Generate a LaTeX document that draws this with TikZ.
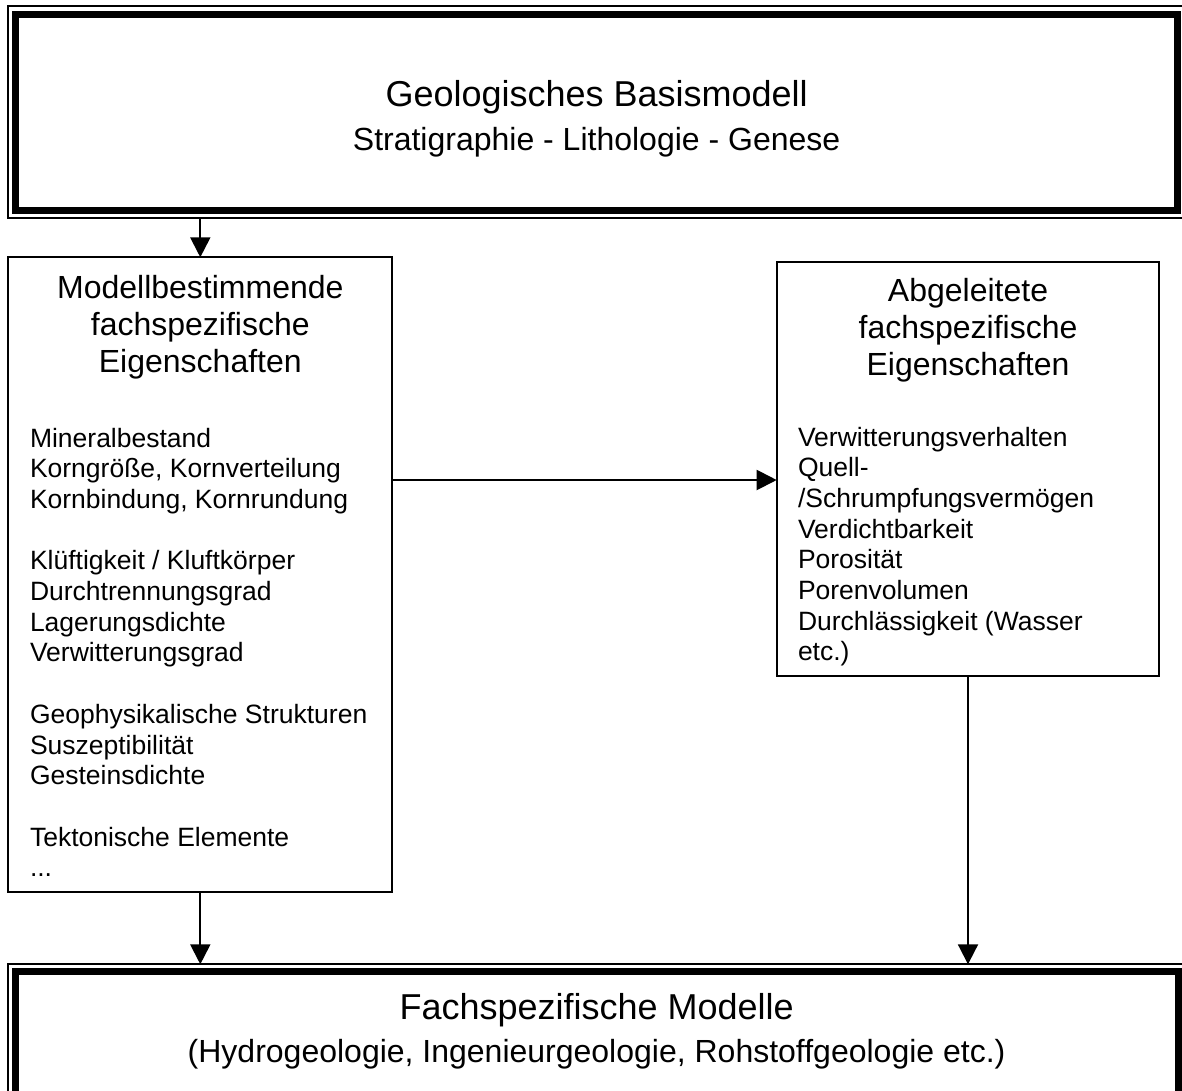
\documentclass[tikz,border=0pt]{standalone}
\usepackage{fontspec}
\setmainfont{Liberation Sans}
\usetikzlibrary{arrows.meta,calc}
\begin{document}
\begin{tikzpicture}[x=1pt,y=-1pt,
  thinbox/.style={draw, rectangle, line width=2pt, inner sep=0pt, outer sep=0pt},
  thickbox/.style={draw, rectangle, line width=7pt, inner sep=0pt, outer sep=0pt},
  conn/.style={line width=2pt, -{Triangle[width=20pt,length=20pt]}},
  txt/.style={inner sep=0pt, outer sep=0pt},
  titlefont/.style={font=\fontsize{36}{44}\selectfont},
  subfont/.style={font=\fontsize{32}{43}\selectfont},
  headfont/.style={font=\fontsize{32}{37}\selectfont},
  bodyfont/.style={font=\fontsize{26.5}{30.7}\selectfont}
]
\useasboundingbox (0,0) rectangle (1182,1090);
\clip (0,0) rectangle (1182,1090);
\fill[white] (0,0) rectangle (1182,1090);

% top box
\node[thinbox, minimum width=1175.8pt, minimum height=212pt] (topouter) at (596.1,112) {};
\node[thickbox, minimum width=1161.7pt, minimum height=196pt] (topinner) at (596.65,112) {};
\node[txt, titlefont, anchor=base] (title1) at (596.6,106) {Geologisches Basismodell};
\node[txt, subfont, anchor=base] (title2) at (596.6,150) {Stratigraphie - Lithologie - Genese};

% left box (multi-line nodes: base anchor = baseline of the last line)
\node[thinbox, minimum width=384pt, minimum height=635pt] (lbox) at (200.3,574.8) {};
\node[txt, headfont, anchor=base, align=center] (lhead) at (200.3,372) {Modellbestimmende\\fachspezifische\\Eigenschaften};
\node[txt, bodyfont, anchor=base west, align=left] (lbody) at (30,876.8) {Mineralbestand\\Korngröße, Kornverteilung\\Kornbindung, Kornrundung\\[30.7pt]Klüftigkeit / Kluftkörper\\Durchtrennungsgrad\\Lagerungsdichte\\Verwitterungsgrad\\[30.7pt]Geophysikalische Strukturen\\Suszeptibilität\\Gesteinsdichte\\[30.7pt]Tektonische Elemente\\...};

% right box
\node[thinbox, minimum width=382.6pt, minimum height=414pt] (rbox) at (968,468.7) {};
\node[txt, headfont, anchor=base, align=center] (rhead) at (968,375) {Abgeleitete\\fachspezifische\\Eigenschaften};
\node[txt, bodyfont, anchor=base west, align=left] (rbody) at (798,660.9) {Verwitterungsverhalten\\Quell-\\/Schrumpfungsvermögen\\Verdichtbarkeit\\Porosität\\Porenvolumen\\Durchlässigkeit (Wasser\\etc.)};

% bottom box
\node[thinbox, minimum width=1177.8pt, minimum height=175.7pt] (botouter) at (597.1,1052.15) {};
\node[thickbox, minimum width=1162.6pt, minimum height=158.3pt] (botinner) at (597,1050.85) {};
\node[txt, titlefont, anchor=base] (bot1) at (596.6,1019) {Fachspezifische Modelle};
\node[txt, subfont, anchor=base] (bot2) at (596.6,1062) {(Hydrogeologie, Ingenieurgeologie, Rohstoffgeologie etc.)};

% connectors
\coordinate (harrow) at (0,480);
\draw[conn] (topouter.south -| lbox.north) -- (lbox.north);
\draw[conn] (lbox.east |- harrow) -- (rbox.west |- harrow);
\draw[conn] (lbox.south) -- (lbox.south |- botouter.north);
\draw[conn] (rbox.south) -- (rbox.south |- botouter.north);
\end{tikzpicture}
\end{document}
